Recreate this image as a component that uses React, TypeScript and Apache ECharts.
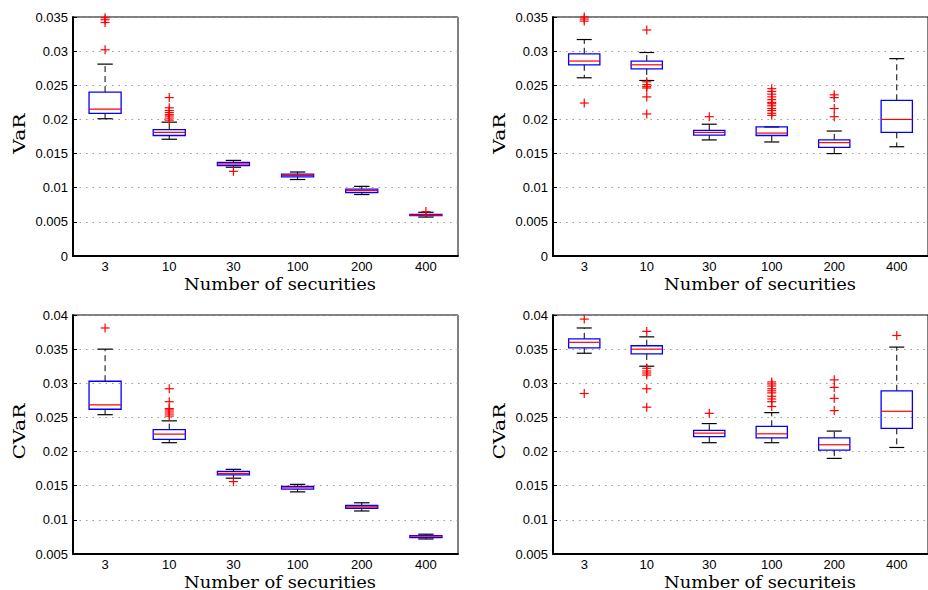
import React, { useEffect, useRef } from 'react';
import * as echarts from 'echarts';

const categories = ['3', '10', '30', '100', '200', '400'];

// each box: [lower whisker, q1, median, q3, upper whisker]
const varLeftBoxes = [
  [0.0201, 0.0209, 0.0215, 0.0240, 0.0281],
  [0.0171, 0.01765, 0.0181, 0.0185, 0.0196],
  [0.0130, 0.01325, 0.0135, 0.0137, 0.0140],
  [0.0112, 0.0116, 0.0118, 0.0120, 0.0123],
  [0.0090, 0.0093, 0.0096, 0.0098, 0.0102],
  [0.0057, 0.0059, 0.0060, 0.0061, 0.0064],
];
const varLeftOutliers = [
  [0, 0.0302], [0, 0.0342], [0, 0.0346], [0, 0.0349],
  [1, 0.0232], [1, 0.0199], [1, 0.0202], [1, 0.0205], [1, 0.0207], [1, 0.0210], [1, 0.0213], [1, 0.0217],
  [2, 0.0124],
  [5, 0.0065],
];

const varRightBoxes = [
  [0.0261, 0.0280, 0.02855, 0.0296, 0.0317],
  [0.0257, 0.0274, 0.0280, 0.02855, 0.0298],
  [0.0170, 0.0177, 0.0181, 0.0184, 0.0193],
  [0.0167, 0.01765, 0.0180, 0.0189, 0.0189],
  [0.0150, 0.0159, 0.0166, 0.0170, 0.0183],
  [0.0160, 0.0181, 0.0200, 0.0228, 0.0289],
];
const varRightOutliers = [
  [0, 0.0224], [0, 0.0344], [0, 0.0347], [0, 0.0350],
  [1, 0.0331], [1, 0.0255], [1, 0.0251], [1, 0.0248], [1, 0.0246], [1, 0.0233], [1, 0.0208],
  [2, 0.0204],
  [3, 0.0206], [3, 0.0209], [3, 0.0213], [3, 0.0216], [3, 0.0220], [3, 0.0223], [3, 0.0225],
  [3, 0.0229], [3, 0.0233], [3, 0.0237], [3, 0.0241], [3, 0.0245],
  [4, 0.0236], [4, 0.0232], [4, 0.0216], [4, 0.0204],
];

const cvarLeftBoxes = [
  [0.0254, 0.0262, 0.02685, 0.0303, 0.0350],
  [0.0213, 0.0218, 0.02255, 0.0232, 0.0245],
  [0.0161, 0.0166, 0.0168, 0.0171, 0.0174],
  [0.0141, 0.0145, 0.0147, 0.0149, 0.0152],
  [0.0113, 0.0117, 0.0119, 0.0121, 0.0125],
  [0.0072, 0.0074, 0.0076, 0.0077, 0.0079],
];
const cvarLeftOutliers = [
  [0, 0.0381],
  [1, 0.0292], [1, 0.0273], [1, 0.0263], [1, 0.0261], [1, 0.0258], [1, 0.0255], [1, 0.0252],
  [2, 0.0156],
];

const cvarRightBoxes = [
  [0.0344, 0.0352, 0.0360, 0.0365, 0.0381],
  [0.0325, 0.0343, 0.0350, 0.0355, 0.0368],
  [0.0213, 0.0222, 0.0227, 0.0231, 0.0241],
  [0.0213, 0.0220, 0.0226, 0.0237, 0.0257],
  [0.0190, 0.0202, 0.0210, 0.0220, 0.0230],
  [0.0206, 0.0234, 0.0259, 0.0289, 0.0353],
];
const cvarRightOutliers = [
  [0, 0.0394], [0, 0.0285],
  [1, 0.0376], [1, 0.0322], [1, 0.0318], [1, 0.0315], [1, 0.0312], [1, 0.0292], [1, 0.0265],
  [2, 0.0256],
  [3, 0.0302], [3, 0.0299], [3, 0.0296], [3, 0.0292], [3, 0.0289], [3, 0.0286], [3, 0.0281],
  [3, 0.0277], [3, 0.0273], [3, 0.0266],
  [4, 0.0305], [4, 0.0294], [4, 0.0278], [4, 0.0260],
  [5, 0.0370],
];

const yLabels = ['VaR', 'VaR', 'CVaR', 'CVaR'];
const xLabels = ['Number of securities', 'Number of securities', 'Number of securities', 'Number of securiteis'];
const yMins = [0, 0, 0.005, 0.005];
const yMaxs = [0.035, 0.035, 0.04, 0.04];

const panels = [
  { boxes: varLeftBoxes, outliers: varLeftOutliers },
  { boxes: varRightBoxes, outliers: varRightOutliers },
  { boxes: cvarLeftBoxes, outliers: cvarLeftOutliers },
  { boxes: cvarRightBoxes, outliers: cvarRightOutliers },
];

const gridPos = [
  { left: 73, top: 17 },
  { left: 553, top: 17 },
  { left: 73, top: 315 },
  { left: 553, top: 315 },
];
const GW = 385;
const GH = 239;

const sansFont = 'Liberation Sans, Arial, Helvetica, sans-serif';
const serifFont = 'DejaVu Serif, serif';

function renderBox(params: any, api: any) {
  const idx = api.value(0);
  const pLow = api.coord([idx, api.value(1)]);
  const pQ1 = api.coord([idx, api.value(2)]);
  const pMed = api.coord([idx, api.value(3)]);
  const pQ3 = api.coord([idx, api.value(4)]);
  const pHigh = api.coord([idx, api.value(5)]);
  const band = api.size([1, 0])[0];
  const bw = band * 0.5;
  const cw = bw * 0.48;
  const x = pLow[0];
  const dash = { stroke: '#000', lineWidth: 1, lineDash: [6, 4] };
  const solid = { stroke: '#000', lineWidth: 1.2 };
  return {
    type: 'group',
    children: [
      { type: 'line', shape: { x1: x, y1: pQ3[1], x2: x, y2: pHigh[1] }, style: dash },
      { type: 'line', shape: { x1: x, y1: pQ1[1], x2: x, y2: pLow[1] }, style: dash },
      { type: 'line', shape: { x1: x - cw / 2, y1: pHigh[1], x2: x + cw / 2, y2: pHigh[1] }, style: solid },
      { type: 'line', shape: { x1: x - cw / 2, y1: pLow[1], x2: x + cw / 2, y2: pLow[1] }, style: solid },
      {
        type: 'rect',
        shape: { x: x - bw / 2, y: pQ3[1], width: bw, height: pQ1[1] - pQ3[1] },
        style: { fill: 'none', stroke: '#0000ff', lineWidth: 1.3 },
      },
      {
        type: 'line',
        shape: { x1: x - bw / 2, y1: pMed[1], x2: x + bw / 2, y2: pMed[1] },
        style: { stroke: '#ff0000', lineWidth: 1.2 },
      },
    ],
  };
}

function renderPlus(params: any, api: any) {
  const p = api.coord([api.value(0), api.value(1)]);
  const h = 4.5;
  const st = { stroke: '#ff0000', lineWidth: 1.2 };
  return {
    type: 'group',
    children: [
      { type: 'line', shape: { x1: p[0] - h, y1: p[1], x2: p[0] + h, y2: p[1] }, style: st },
      { type: 'line', shape: { x1: p[0], y1: p[1] - h, x2: p[0], y2: p[1] + h }, style: st },
    ],
  };
}

export default function App() {
  const ref = useRef<HTMLDivElement>(null);
  useEffect(() => {
    if (!ref.current) return;
    const chart = echarts.init(ref.current, undefined, { renderer: 'svg' });
    const grid: any[] = [];
    const xAxis: any[] = [];
    const yAxis: any[] = [];
    const series: any[] = [];
    const graphic: any[] = [];
    panels.forEach((pn, i) => {
      grid.push({
        left: gridPos[i].left,
        top: gridPos[i].top,
        width: GW,
        height: GH,
        show: true,
        borderColor: '#000',
        borderWidth: 1,
        backgroundColor: '#fff',
      });
      xAxis.push({
        type: 'category',
        gridIndex: i,
        data: categories,
        boundaryGap: true,
        axisLine: { lineStyle: { color: '#000', width: 2 } },
        axisTick: { show: false },
        axisLabel: { color: '#000', fontSize: 13, fontFamily: sansFont, margin: 4 },
        splitLine: { show: false },
      });
      yAxis.push({
        type: 'value',
        gridIndex: i,
        min: yMins[i],
        max: yMaxs[i],
        interval: 0.005,
        axisLine: { show: true, lineStyle: { color: '#000', width: 2 } },
        axisTick: { show: true, inside: true, length: 4, lineStyle: { color: '#000' } },
        axisLabel: {
          color: '#000',
          fontSize: 13,
          fontFamily: sansFont,
          margin: 5,
          formatter: (v: number) => String(+v.toFixed(3)),
        },
        splitLine: { show: true, lineStyle: { color: '#999', width: 1, type: [1.5, 5] } },
      });
      series.push({
        type: 'custom',
        xAxisIndex: i,
        yAxisIndex: i,
        renderItem: renderBox,
        encode: { x: 0, y: [1, 2, 3, 4, 5] },
        data: pn.boxes.map((b, k) => [k, ...b]),
        z: 3,
      });
      series.push({
        type: 'custom',
        xAxisIndex: i,
        yAxisIndex: i,
        renderItem: renderPlus,
        encode: { x: 0, y: 1 },
        data: pn.outliers,
        z: 4,
      });
      const gx = gridPos[i].left;
      const gy = gridPos[i].top;
      graphic.push({
        type: 'text',
        x: gx + 207,
        y: gy + GH + 28,
        scaleX: 1.12,
        style: {
          text: xLabels[i],
          font: `16px ${serifFont}`,
          fill: '#000',
          textAlign: 'center',
          textVerticalAlign: 'middle',
        },
      });
      graphic.push({
        type: 'text',
        x: gx - 54,
        y: gy + GH / 2 - 3,
        rotation: Math.PI / 2,
        scaleX: 1.2,
        style: {
          text: yLabels[i],
          font: `17px ${serifFont}`,
          fill: '#000',
          textAlign: 'center',
          textVerticalAlign: 'middle',
        },
      });
    });
    chart.setOption({
      animation: false,
      backgroundColor: '#fff',
      grid,
      xAxis,
      yAxis,
      series,
      graphic,
    });
    return () => chart.dispose();
  }, []);
  return (
    <div
      ref={ref}
      style={{ position: 'fixed', left: 0, top: 0, width: 928, height: 590, background: '#fff' }}
    />
  );
}
